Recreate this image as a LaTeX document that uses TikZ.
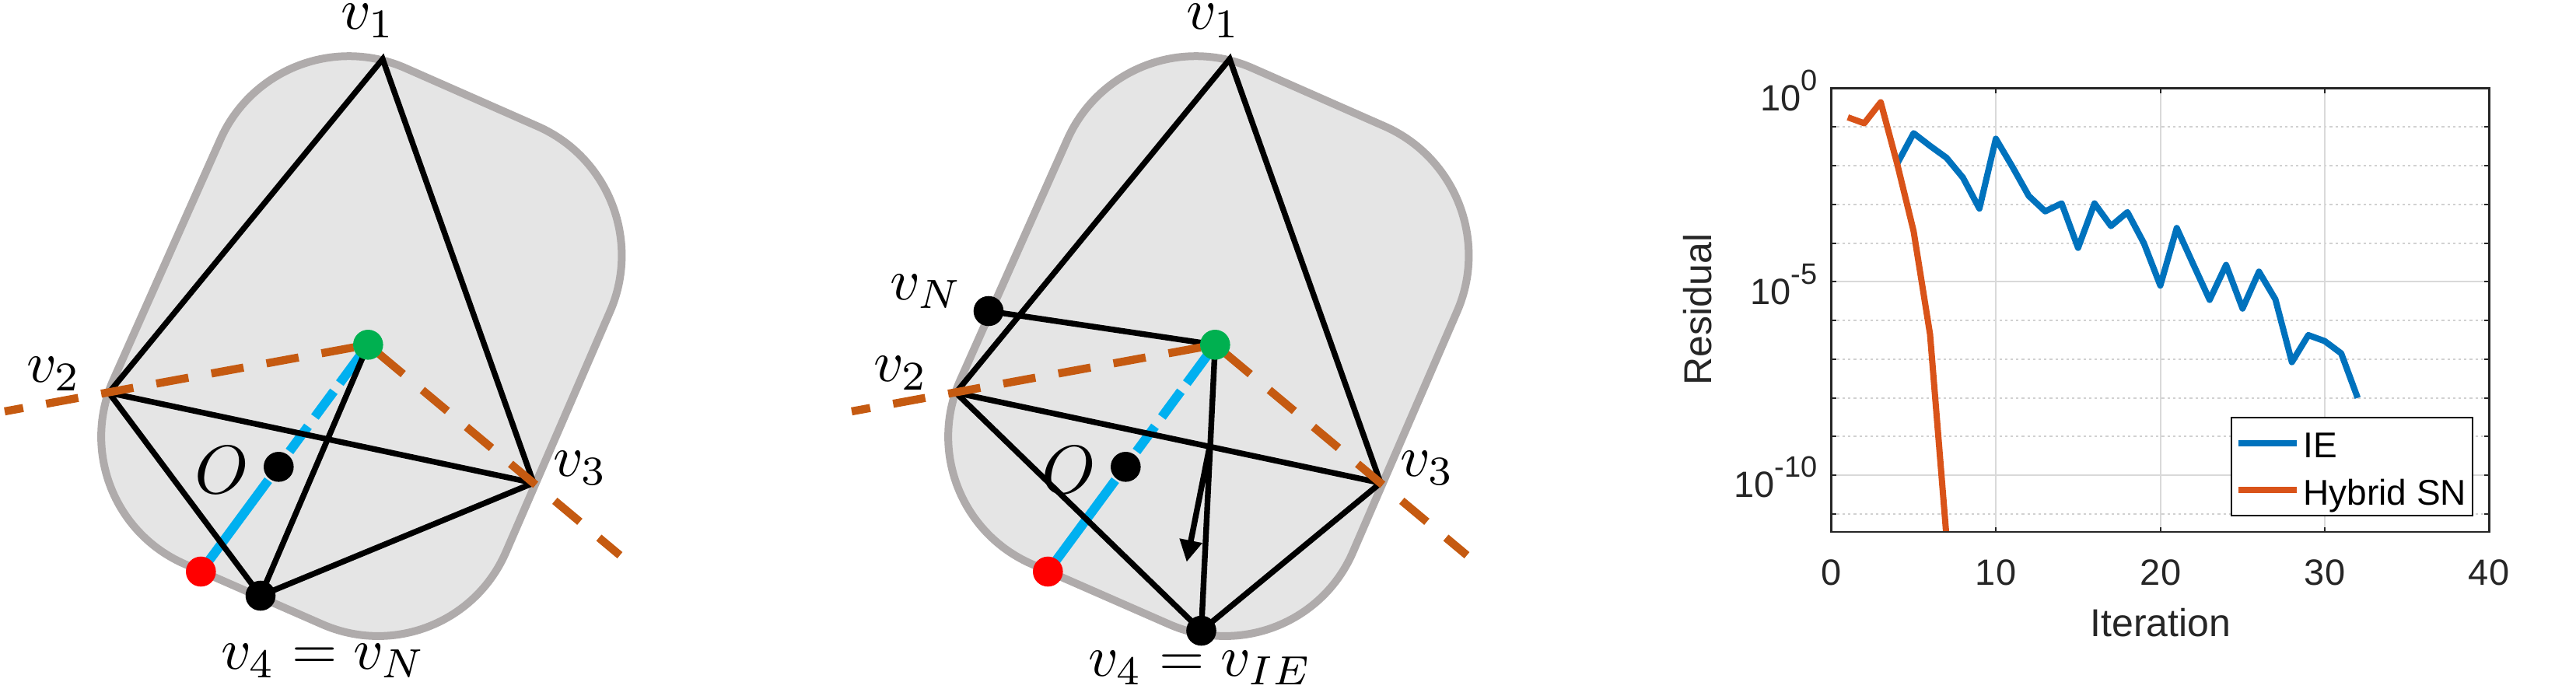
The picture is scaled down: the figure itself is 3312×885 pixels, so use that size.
\documentclass[tikz,border=0pt]{standalone}
\usepackage{fontspec}
\newfontfamily\chartfont{Liberation Sans}
\usetikzlibrary{arrows.meta}
\definecolor{hullfill}{HTML}{E5E5E5}
\definecolor{hullline}{HTML}{AFABAB}
\definecolor{orangeline}{HTML}{C55A11}
\definecolor{blueline}{HTML}{00B0F0}
\definecolor{greendot}{HTML}{00B050}
\definecolor{ieblue}{HTML}{0072BD}
\definecolor{snred}{HTML}{D95319}
\definecolor{axisdark}{HTML}{262626}
\tikzset{
  hull/.style={fill=hullfill,draw=hullline,line width=5pt,rounded corners=90pt},
  edge/.style={draw=black,line width=3.7pt},
  orangeleft/.style={draw=orangeline,line width=5.2pt,dash pattern=on 21pt off 15pt,dash phase=8.9pt},
  orangeright/.style={draw=orangeline,line width=5.2pt,dash pattern=on 21pt off 16pt,dash phase=28.6pt},
  bluedash/.style={draw=blueline,line width=6pt,dash pattern=on 73pt off 23pt on 20pt off 7.5pt on 20.5pt off 6.5pt on 60pt},
  dot/.style={circle,inner sep=0pt,minimum size=19.3pt,fill=#1},
  vlabel/.style={scale=3.75,inner sep=0pt},
  olabel/.style={scale=4.4,inner sep=0pt},
  major/.style={draw=black!15,line width=1pt},
  minor/.style={draw=black!18,line width=.9pt,dash pattern=on 1.6pt off 2pt},
  frame/.style={draw=axisdark,line width=1.2pt},
  tick/.style={draw=axisdark,line width=1pt},
  ticklab/.style={font=\chartfont\fontsize{23.5}{27}\selectfont,text=axisdark,inner sep=0pt},
  axlab/.style={font=\chartfont\fontsize{25}{29}\selectfont,text=axisdark,inner sep=0pt},
  leglab/.style={font=\chartfont\fontsize{23}{27}\selectfont,text=black,inner sep=0pt,anchor=base west},
  ieline/.style={draw=ieblue,line width=4pt,line join=round},
  snline/.style={draw=snred,line width=4pt,line join=round},
}
\newcommand{\panelbase}{%
  \coordinate (c1) at (356.5,15);
  \coordinate (c2) at (856,235);
  \coordinate (c3) at (579,875);
  \coordinate (c4) at (72.5,653);
  \draw[hull] (c1) -- (c2) -- (c3) -- (c4) -- cycle;
  \coordinate (v1) at (492,76);
  \coordinate (v2) at (140,505);
  \coordinate (v3) at (686,621);
  \coordinate (g) at (473.3,443.3);
  \coordinate (o) at (358.3,600.3);
  \coordinate (r) at (258.3,735);
  \coordinate (ostart) at (6,529);
  \coordinate (oend) at (797,714);
}
\newcommand{\paneltop}{%
  \draw[orangeleft] (ostart) -- (g);
  \draw[orangeright] (g) -- (oend);
  \node[dot=greendot] (gdot) at (g) {};
  \node[dot=black] (odot) at (o) {};
  \node[dot=red] (rdot) at (r) {};
}
\begin{document}
\begin{tikzpicture}[x=.5pt,y=-.5pt]
\useasboundingbox (0,0) rectangle (3312,885);

% ---- left panel
\begin{scope}[name prefix=a-]
  \panelbase
  \coordinate (v4) at (335,766);
  \draw[bluedash] (r) -- (g);
  \draw[edge,line join=miter] (v2) -- (v1) -- (v3);
  \draw[edge] (v2) -- (v3);
  \draw[edge] (v2) -- (v4);
  \draw[edge] (v3) -- (v4);
  \draw[edge] (g) -- (v4);
  \paneltop
  \node[dot=black] (v4dot) at (v4) {};
  \node[vlabel] (l1) at (473,27) {$v_1$};
  \node[vlabel] (l2) at (69,481) {$v_2$};
  \node[vlabel] (l3) at (746,602) {$v_3$};
  \node[olabel] (lo) at (285,604) {$O$};
  \node[vlabel] (l4) at (416,850) {$v_4=v_N$};
\end{scope}

% ---- middle panel
\begin{scope}[shift={(1089,0)},name prefix=b-]
  \panelbase
  \coordinate (v4) at (455.5,811);
  \coordinate (vn) at (182,400);
  \coordinate (astart) at (466,575);
  \coordinate (atip) at (436.7,722.7);
  \draw[bluedash] (r) -- (g);
  \draw[edge,line join=miter] (v2) -- (v1) -- (v3);
  \draw[edge] (v2) -- (v3);
  \draw[edge] (v2) -- (v4);
  \draw[edge] (v3) -- (v4);
  \draw[edge] (g) -- (v4);
  \draw[edge] (vn) -- (g);
  \draw[edge,-{Triangle[length=14pt,width=14pt]}] (astart) -- (atip);
  \paneltop
  \node[dot=black] (v4dot) at (v4) {};
  \node[dot=black] (vndot) at (vn) {};
  \node[vlabel] (l1) at (471,27) {$v_1$};
  \node[vlabel] (l2) at (69,480) {$v_2$};
  \node[vlabel] (l3) at (746,602) {$v_3$};
  \node[olabel] (lo) at (285.5,604) {$O$};
  \node[vlabel] (l4) at (454,859) {$v_4=v_{IE}$};
  \node[vlabel] (ln) at (102,375) {$v_N$};
\end{scope}

% ---- convergence plot
\begin{scope}[shift={(2354.6,113.6)},x=10.5725pt,y=-24.875pt]
  \foreach \d in {1,2,3,4,6,7,8,9,11} \draw[minor] (0,\d) -- (40,\d);
  \foreach \d in {5,10} \draw[major] (0,\d) -- (40,\d);
  \foreach \i in {10,20,30} \draw[major] (\i,0) -- (\i,11.47);
  \begin{scope}
    \clip (0,0) rectangle (40,11.47);
    \draw[ieline] (4,1.949) -- (5,1.159) -- (6,1.487) -- (7,1.795) -- (8,2.308) -- (9,3.108)
      -- (10,1.303) -- (11,2.021) -- (12,2.779) -- (13,3.179) -- (14,2.974) -- (15,4.123)
      -- (16,2.974) -- (17,3.559) -- (18,3.2) -- (19,4.0) -- (20,5.097) -- (21,3.61)
      -- (22,4.544) -- (23,5.467) -- (24,4.564) -- (25,5.692) -- (26,4.738) -- (27,5.456)
      -- (28,7.077) -- (29,6.379) -- (30,6.533) -- (31,6.851) -- (32,8.0);
    \draw[snline] (1,.749) -- (2,.903) -- (3,.359) -- (4,1.949) -- (5,3.692) -- (6,6.359) -- (7,11.6);
  \end{scope}
  \foreach \i in {0,10,20,30,40} {
    \draw[tick] (\i,0) -- ++(0,.13);
    \draw[tick] (\i,11.47) -- ++(0,-.13);
  }
  \foreach \d in {0,...,11} {
    \draw[tick] (0,\d) -- ++(.3,0);
    \draw[tick] (40,\d) -- ++(-.3,0);
  }
  \draw[frame] (0,0) rectangle (40,11.47);
\end{scope}

\node[ticklab] (x0) at (2355,736) {0};
\node[ticklab] (x10) at (2566,736) {10};
\node[ticklab] (x20) at (2778,736) {20};
\node[ticklab] (x30) at (2989,736) {30};
\node[ticklab] (x40) at (3200,736) {40};
\newcommand{\expo}[1]{\raisebox{12.7pt}{\fontsize{19}{21}\selectfont #1}}
\node[ticklab,anchor=base east] (y0) at (2337,142) {10\expo{0}};
\node[ticklab,anchor=base east] (y5) at (2337,391) {10\expo{-5}};
\node[ticklab,anchor=base east] (y10) at (2337,639) {10\expo{-10}};
\node[axlab] (xlab) at (2778,801) {Iteration};
\node[axlab,rotate=90] (ylab) at (2183,398) {Residual};

% ---- legend
\node[draw=black,line width=1.1pt,fill=white,inner sep=0pt,minimum width=155.3pt,minimum height=63pt] (legend) at (3024,600) {};
\coordinate (lega) at (2878,570);
\coordinate (legb) at (2953,570);
\coordinate (legc) at (2878,630);
\coordinate (legd) at (2953,630);
\draw[ieline] (lega) -- (legb);
\draw[snline] (legc) -- (legd);
\node[leglab] (legie) at (2961,588) {IE};
\node[leglab] (legsn) at (2961,649) {Hybrid SN};
\end{tikzpicture}
\end{document}
